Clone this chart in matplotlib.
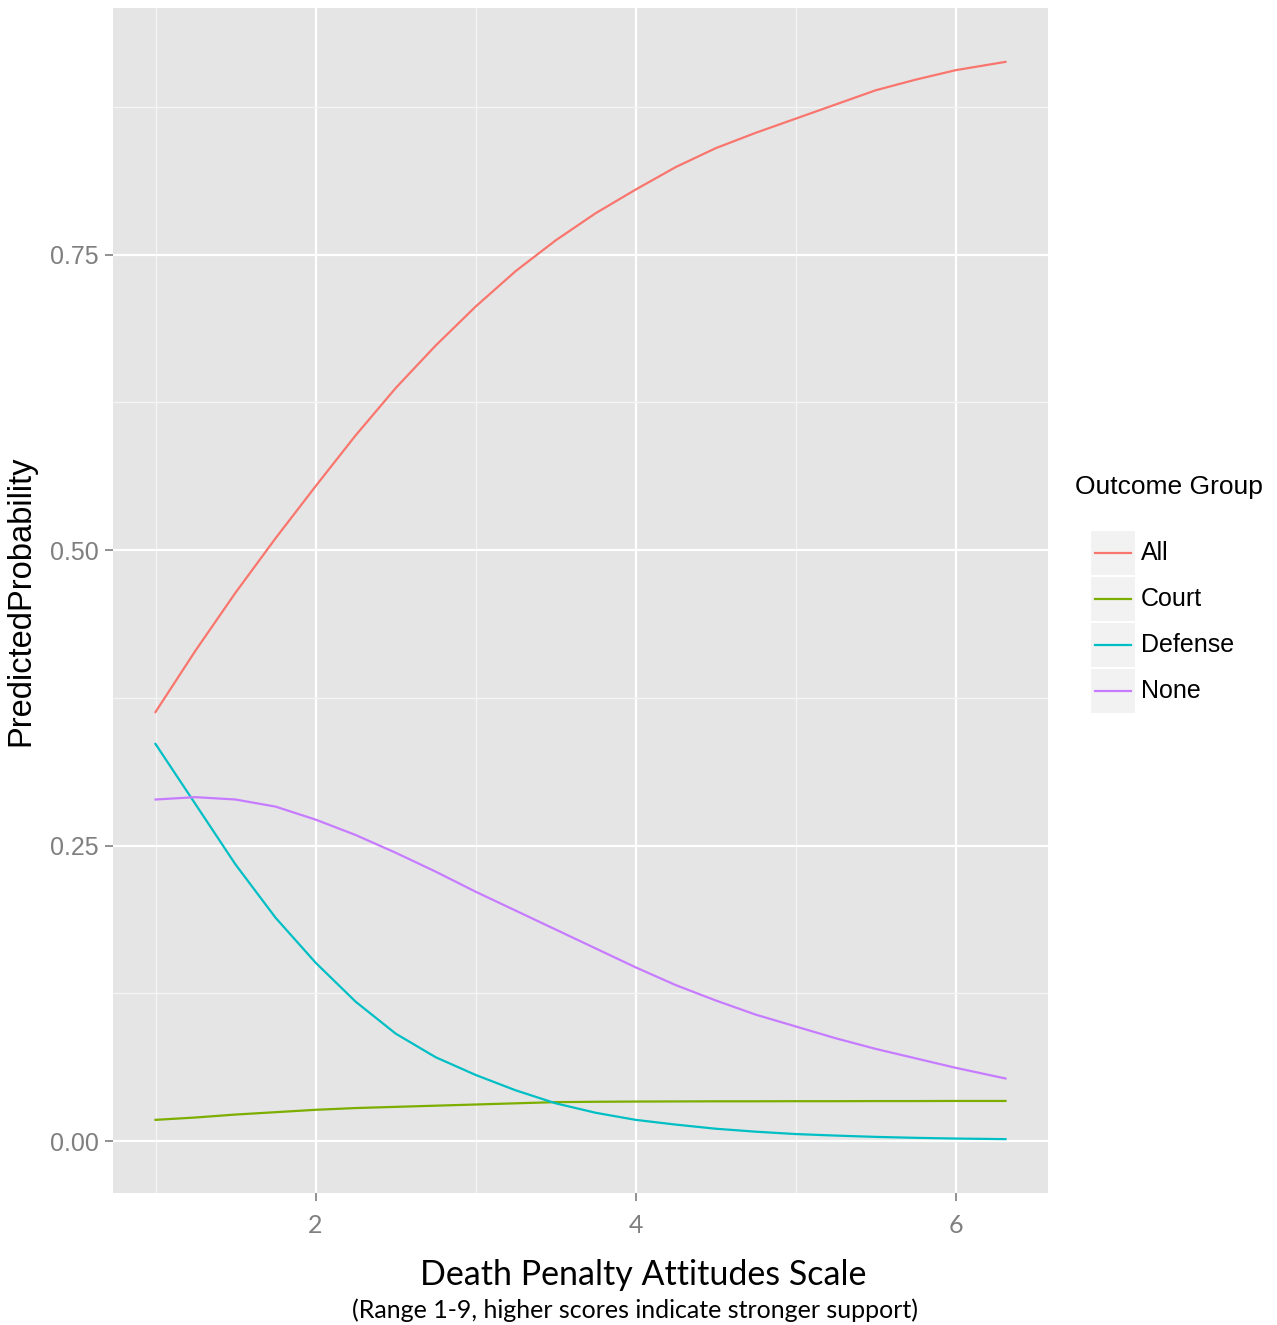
import matplotlib
matplotlib.use('Agg')
from matplotlib import pyplot as plt
from matplotlib.patches import Rectangle
from matplotlib.lines import Line2D

# predicted probabilities
scale = [1.0, 1.25, 1.5, 1.75, 2.0, 2.25, 2.5, 2.75, 3.0, 3.25, 3.5, 3.75,
         4.0, 4.25, 4.5, 4.75, 5.0, 5.25, 5.5, 5.75, 6.0, 6.31]
p_all = [0.363, 0.415, 0.464, 0.510, 0.554, 0.597, 0.637, 0.673, 0.706, 0.736,
         0.762, 0.785, 0.805, 0.824, 0.840, 0.853, 0.865, 0.877, 0.889, 0.898,
         0.906, 0.913]
p_court = [0.018, 0.020, 0.0225, 0.0245, 0.0265, 0.028, 0.029, 0.030, 0.031,
           0.032, 0.033, 0.0333, 0.0335, 0.0336, 0.0337, 0.0337, 0.0338,
           0.0338, 0.0339, 0.0339, 0.034, 0.034]
p_defense = [0.336, 0.285, 0.234, 0.189, 0.151, 0.118, 0.091, 0.071, 0.056,
             0.043, 0.032, 0.024, 0.018, 0.014, 0.0105, 0.008, 0.006, 0.0047,
             0.0036, 0.0028, 0.0022, 0.0017]
p_none = [0.289, 0.291, 0.289, 0.283, 0.272, 0.259, 0.244, 0.228, 0.211,
          0.195, 0.179, 0.163, 0.147, 0.132, 0.119, 0.107, 0.097, 0.087,
          0.078, 0.070, 0.062, 0.053]

groups = ['All', 'Court', 'Defense', 'None']
series = [p_all, p_court, p_defense, p_none]
colors = ['#F8766D', '#7CAE00', '#00BFC4', '#C77CFF']

W, H = 1277, 1325
fig = plt.figure(figsize=(W / 100, H / 100), dpi=100)
fig.patch.set_facecolor('white')
ax = fig.add_axes([113 / W, 1 - 1193 / H, (1048 - 113) / W, (1193 - 8) / H])
ax.set_facecolor('#E5E5E5')

for name, vals, c in zip(groups, series, colors):
    ax.plot(scale, vals, '-', color=c, lw=1.6, label=name)

# ggplot-like expansion of 5%
xr = max(scale) - min(scale)
ax.set_xlim(min(scale) - 0.05 * xr, max(scale) + 0.05 * xr)
ymin = min(min(v) for v in series)
ymax = max(max(v) for v in series)
yr = ymax - ymin
ax.set_ylim(ymin - 0.05 * yr, ymax + 0.05 * yr)

ax.set_xticks([2, 4, 6])
ax.set_xticks([1, 3, 5], minor=True)
ax.set_yticks([0.0, 0.25, 0.5, 0.75])
ax.set_yticklabels(['0.00', '0.25', '0.50', '0.75'])
ax.set_yticks([0.125, 0.375, 0.625, 0.875], minor=True)
ax.grid(True, which='major', color='white', lw=1.6)
ax.grid(True, which='minor', color='#F4F4F4', lw=1.0)
ax.set_axisbelow(True)
for s in ax.spines.values():
    s.set_visible(False)
ax.tick_params(which='major', length=6, width=1.2, color='#7F7F7F',
               labelcolor='#7F7F7F')
ax.tick_params(axis='y', labelsize=18, pad=4)
ax.tick_params(axis='x', labelsize=18, pad=9)
ax.tick_params(which='minor', length=0)
for lab in ax.get_yticklabels():
    lab.set_family('Liberation Sans')
for lab in ax.get_xticklabels():
    lab.set_family('Lato')

ax.set_ylabel('PredictedProbability', family='Liberation Sans', fontsize=23.5,
              labelpad=10)

fig.text(643 / W, 1 - 1275 / H, 'Death Penalty Attitudes Scale',
         family='Lato', fontsize=24.5, ha='center', va='center')
fig.text(635 / W, 1 - 1310 / H,
         '(Range 1-9, higher scores indicate stronger support)',
         family='Lato', fontsize=18, ha='center', va='center')

# legend drawn like ggplot2's grey legend keys
fig.text(1075 / W, 1 - 487 / H, 'Outcome Group', family='Liberation Sans',
         fontsize=19, ha='left', va='center')
for i, (name, c) in enumerate(zip(groups, colors)):
    top = 530 + i * 46
    fig.add_artist(Rectangle((1090 / W, 1 - (top + 46) / H), 46 / W, 46 / H,
                             transform=fig.transFigure, facecolor='#F2F2F2',
                             edgecolor='white', lw=1.5))
    yc = 1 - (top + 23) / H
    fig.add_artist(Line2D([1095 / W, 1131 / W], [yc, yc],
                          transform=fig.transFigure, color=c, lw=1.6))
    fig.text(1141 / W, yc, name, family='Liberation Sans', fontsize=18,
             ha='left', va='center')

fig.savefig('out.png', dpi=100)
